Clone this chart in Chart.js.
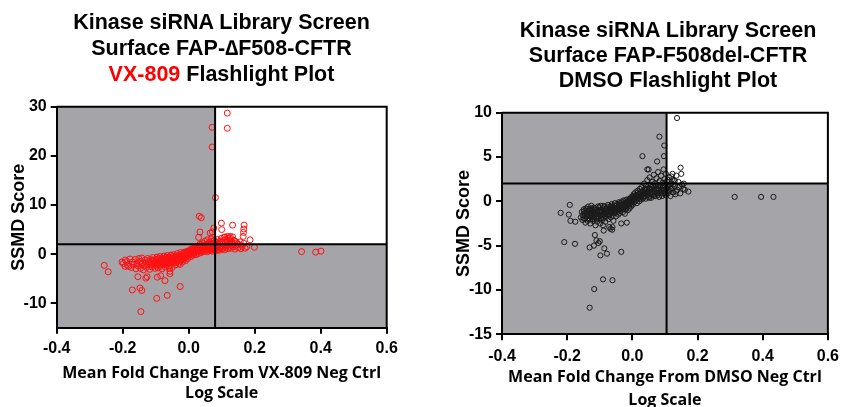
<!DOCTYPE html>
<html><head><meta charset="utf-8">
<script src="https://cdn.jsdelivr.net/npm/chart.js@4"></script>
<style>
html,body{margin:0;padding:0;background:#fff;width:846px;height:407px;overflow:hidden;position:relative;}
canvas{position:absolute;top:0;}
.title{position:absolute;text-align:center;font-family:'Liberation Sans',Arial,sans-serif;font-weight:bold;font-size:21.5px;color:#000;white-space:nowrap;}
</style></head><body>
<canvas id="c1" width="423" height="407" style="left:0px"></canvas>
<canvas id="c2" width="423" height="412" style="left:423px"></canvas>
<div class="title" style="left:31.5px;width:380px;top:10.4px;line-height:25.7px">Kinase siRNA Library Screen<br>Surface FAP-∆F508-CFTR<br><span style="color:#ff0000">VX-809</span> Flashlight Plot</div>
<div class="title" style="left:478px;width:380px;top:17.5px;line-height:25px">Kinase siRNA Library Screen<br>Surface FAP-F508del-CFTR<br>DMSO Flashlight Plot</div>
<script>
// ---------- data ----------
const xRange = [-0.4, 0.6];
const xTicks = [-0.4, -0.2, 0, 0.2, 0.4, 0.6];

const vx809YRange = [-15, 30];
const vx809YTicks = [-10, 0, 10, 20, 30];
const vx809Cut = [0.08, 2];          // [fold-change threshold, SSMD threshold]
const vx809XTitle = ['Mean Fold Change From VX-809 Neg Ctrl', 'Log Scale'];

const dmsoYRange = [-15, 10];
const dmsoYTicks = [-15, -10, -5, 0, 5, 10];
const dmsoCut = [0.105, 2];
const dmsoXTitle = ['Mean Fold Change From DMSO Neg Ctrl', 'Log Scale'];

const yTitle = 'SSMD Score';

const vx809Outliers = [
[0.117,28.7],[0.071,25.8],[0.117,25.6],[0.071,21.8],[0.081,11.5],[0.032,7.7],[0.038,7.4],[0.099,6.3],
[0.133,5.9],[0.168,5.9],[0.167,5.1],[0.166,4.4],[0.165,3.6],[0.186,2.9],[0.199,1.4],[0.342,0.5],
[0.385,0.4],[0.401,0.6],[0.034,4.5],[0.030,3.4],[0.065,4.3],[0.072,4.5],[0.076,5.3],[0.100,5.0],
[0.110,3.5],[0.118,3.6],[0.124,3.3],[0.133,3.5],[-0.256,-2.3],[-0.244,-3.6],[-0.202,-1.6],[-0.193,-2.5],
[-0.187,-1.5],[-0.181,-2.5],[-0.171,-7.3],[-0.154,-4.6],[-0.148,-6.9],[-0.142,-7.4],[-0.145,-11.7],
[-0.130,-4.9],[-0.126,-4.6],[-0.097,-9.0],[-0.095,-4.7],[-0.085,-4.4],[-0.072,-5.4],[-0.065,-8.4],
[-0.057,-3.5],[-0.057,-4.0],[-0.058,-2.9],[-0.026,-6.6],[-0.026,-2.1]
];
const vx809Cluster = [
[-0.198,-1.9],[-0.192,-1.2],[-0.185,-2.3],[-0.178,-1.0],[-0.174,-2.7],[-0.170,-1.6],[-0.166,-2.1],[-0.162,-1.1],
[-0.160,-3.0],[-0.157,-1.8],[-0.154,-2.4],[-0.151,-0.9],[-0.148,-1.5],[-0.146,-2.9],[-0.144,-2.1],[-0.142,-0.8],
[-0.139,-1.7],[-0.137,-3.2],[-0.135,-2.4],[-0.132,-1.2],[-0.130,-1.9],[-0.128,-2.7],[-0.125,-0.9],[-0.123,-1.5],
[-0.121,-2.2],[-0.118,-3.1],[-0.116,-1.1],[-0.114,-1.8],[-0.112,-2.6],[-0.109,-0.7],[-0.107,-1.4],[-0.104,-2.0],
[-0.102,-2.9],[-0.099,-1.2],[-0.098,-2.4],[-0.096,-0.6],[-0.095,-1.7],[-0.093,-2.8],[-0.092,-1.0],[-0.090,-2.0],
[-0.089,-1.4],[-0.087,-0.5],[-0.086,-2.5],[-0.084,-1.1],[-0.083,-1.8],[-0.081,-3.0],[-0.080,-0.8],[-0.078,-1.5],
[-0.077,-2.2],[-0.075,-0.4],[-0.074,-1.2],[-0.072,-1.9],[-0.071,-2.6],[-0.069,-0.7],[-0.068,-1.4],[-0.066,-2.1],
[-0.065,-0.3],[-0.063,-1.0],[-0.062,-1.7],[-0.060,-2.4],[-0.059,-0.6],[-0.057,-1.3],[-0.056,-2.0],[-0.054,-0.2],
[-0.053,-0.9],[-0.051,-1.5],[-0.050,-2.7],[-0.049,-0.5],[-0.048,-1.2],[-0.046,-1.8],[-0.045,-0.1],[-0.043,-0.8],
[-0.042,-1.4],[-0.040,-2.2],[-0.039,-0.4],[-0.037,-1.0],[-0.036,-1.6],[-0.034,0.1],[-0.033,-0.6],[-0.031,-1.2],
[-0.030,-1.9],[-0.028,-0.2],[-0.027,-0.8],[-0.025,-1.4],[-0.024,0.3],[-0.022,-0.4],[-0.021,-1.0],[-0.019,-1.6],
[-0.018,0.1],[-0.016,-0.6],[-0.015,-1.1],[-0.013,0.4],[-0.012,-0.2],[-0.010,-0.8],[-0.009,-1.3],[-0.007,0.2],
[-0.006,-0.4],[-0.004,0.6],[-0.003,-0.9],[-0.001,0.0],[0.001,0.5],[0.002,-0.3],[0.004,0.9],[0.005,0.2],
[0.007,-0.5],[0.008,0.7],[0.010,0.0],[0.011,1.1],[0.013,0.4],[0.014,-0.2],[0.016,0.9],[0.017,0.2],
[0.019,1.3],[0.020,0.6],[0.022,-0.1],[0.023,1.0],[0.025,0.4],[0.026,1.6],[0.028,0.8],[0.029,0.1],
[0.031,1.2],[0.032,0.6],[0.034,2.0],[0.035,0.9],[0.037,0.3],[0.038,1.5],[0.040,0.7],[0.041,2.3],
[0.043,1.1],[0.044,0.5],[0.046,1.8],[0.047,0.9],[0.049,2.6],[0.050,1.3],[0.051,0.6],[0.053,2.0],
[0.054,1.0],[0.056,2.9],[0.057,0.5],[0.059,1.6],[0.060,0.9],[0.062,2.4],[0.063,1.2],[0.065,0.7],
[0.066,1.9],[0.068,3.1],[0.069,1.0],[0.071,1.5],[0.072,0.6],[0.074,2.2],[0.075,1.2],[0.077,2.8],
[0.078,0.8],[0.080,1.7],[0.081,1.1],[0.083,2.4],[0.084,0.7],[0.086,1.4],[0.087,3.0],[0.089,1.0],
[0.091,1.9],[0.093,0.8],[0.095,2.6],[0.097,1.3],[0.099,3.2],[0.101,1.0],[0.103,2.1],[0.105,1.5],
[0.107,3.4],[0.109,0.9],[0.111,2.3],[0.113,1.4],[0.115,3.0],[0.117,1.8],[0.119,1.1],[0.121,2.5],
[0.124,1.6],[0.126,3.6],[0.128,1.2],[0.131,2.0],[0.134,1.5],[0.137,2.8],[0.140,1.0],[0.143,1.7],
[0.146,2.3],[0.150,1.3],[0.154,1.9],[0.158,1.1],[0.162,1.6],[0.167,2.2],[0.171,1.2],[0.176,1.5]
];
const vx809Core = [
[-0.118,-1.6],[-0.113,-2.3],[-0.108,-1.2],[-0.103,-1.7],[-0.097,-1.4],[-0.094,-2.2],[-0.091,-1.5],[-0.088,-0.9],
[-0.085,-1.9],[-0.082,-1.3],[-0.079,-2.0],[-0.076,-1.0],[-0.073,-1.6],[-0.070,-1.2],[-0.067,-1.8],[-0.064,-0.8],
[-0.061,-1.4],[-0.058,-0.9],[-0.055,-1.6],[-0.052,-1.1],[-0.049,-1.7],[-0.047,-0.8],[-0.044,-1.2],[-0.041,-0.6],
[-0.038,-1.1],[-0.035,-0.5],[-0.032,-0.9],[-0.029,-0.4],[-0.026,-1.0],[-0.023,-0.5],[-0.020,-0.2],[-0.017,-0.7],
[-0.014,-0.1],[-0.011,-0.5],[-0.008,0.3],[-0.005,-0.2],[-0.002,0.4],[0.001,0.1],[0.004,0.6],[0.006,0.3],
[0.009,0.8],[0.012,0.5],[0.015,1.0],[0.018,0.6],[0.021,1.1],[0.024,0.8],[0.027,1.3],[0.030,0.9],
[0.033,1.4],[0.036,1.1],[0.039,1.9],[0.042,1.5],[0.045,1.0],[0.048,1.6],[0.052,1.2],[0.055,1.7],
[0.058,1.1],[0.061,1.4],[0.064,2.0],[0.067,1.3],[0.070,2.6],[0.073,1.7],[0.076,1.0],[0.079,2.1],
[0.082,1.4],[0.085,2.0],[0.088,1.6],[0.092,2.3],[0.096,1.6],[0.100,2.4],[0.104,1.2],[0.108,2.8],
[0.112,1.8],[0.116,2.6],[0.120,3.2],[0.123,2.0],[0.127,2.9],[0.132,2.4],[0.136,1.9],[0.141,2.6],
[0.148,2.0],[0.156,2.5]
];

const dmsoOutliers = [
[0.137,9.4],[0.083,7.3],[0.098,6.3],[0.097,5.1],[0.031,5.1],[0.076,4.5],[0.046,3.6],[0.050,3.6],
[0.148,3.8],[0.150,3.1],[0.120,2.8],[0.172,1.1],[0.161,1.3],[0.158,2.0],[0.314,0.5],[0.395,0.5],
[0.433,0.5],[-0.220,-1.3],[-0.192,-0.4],[-0.195,-1.5],[-0.190,-2.2],[-0.175,-2.3],[-0.209,-4.6],[-0.176,-4.8],
[-0.131,-5.2],[-0.115,-3.8],[-0.110,-4.4],[-0.118,-5.0],[-0.104,-4.7],[-0.100,-4.5],[-0.098,-6.1],[-0.086,-5.3],
[-0.078,-5.9],[-0.117,-9.9],[-0.131,-12.0],[-0.090,-8.8],[-0.061,-8.9],[-0.034,-5.7],[-0.071,-2.9],[-0.067,-3.1],
[-0.061,-2.9],[-0.062,-3.2],[-0.034,-2.5],[-0.017,-2.4],[-0.090,-2.7],[-0.088,-3.3]
];
const dmsoCluster = [
[-0.158,-1.8],[-0.155,-1.2],[-0.153,-2.1],[-0.151,-1.5],[-0.149,-0.9],[-0.147,-2.0],[-0.146,-1.4],[-0.144,-2.4],
[-0.142,-0.8],[-0.141,-1.7],[-0.139,-1.1],[-0.137,-2.2],[-0.136,-0.6],[-0.134,-1.5],[-0.132,-1.9],[-0.131,-0.9],
[-0.129,-2.5],[-0.127,-1.3],[-0.126,-0.5],[-0.124,-1.8],[-0.122,-1.0],[-0.121,-2.2],[-0.119,-1.5],[-0.118,-0.7],
[-0.116,-2.0],[-0.114,-1.2],[-0.113,-2.7],[-0.111,-0.9],[-0.109,-1.7],[-0.108,-2.3],[-0.106,-0.6],[-0.104,-1.4],
[-0.103,-1.9],[-0.101,-1.0],[-0.099,-2.5],[-0.098,-0.5],[-0.096,-1.6],[-0.094,-1.2],[-0.093,-2.1],[-0.091,-0.8],
[-0.089,-1.5],[-0.088,-1.9],[-0.086,-0.6],[-0.084,-1.1],[-0.083,-2.3],[-0.081,-1.4],[-0.079,-0.8],[-0.078,-1.7],
[-0.076,-1.2],[-0.075,-0.4],[-0.073,-2.0],[-0.071,-1.0],[-0.070,-1.5],[-0.068,-0.6],[-0.066,-1.8],[-0.065,-1.2],
[-0.063,-0.3],[-0.061,-0.9],[-0.060,-1.6],[-0.058,-2.2],[-0.056,-0.7],[-0.055,-1.3],[-0.053,-0.2],[-0.051,-1.0],
[-0.050,-1.7],[-0.048,-0.5],[-0.046,-1.2],[-0.045,-0.8],[-0.043,-1.5],[-0.041,-0.1],[-0.039,-0.7],[-0.038,-1.3],
[-0.036,-0.4],[-0.034,-1.0],[-0.033,-0.1],[-0.031,-0.6],[-0.029,-1.2],[-0.028,0.1],[-0.026,-0.4],[-0.024,-0.9],
[-0.023,-1.4],[-0.021,-0.2],[-0.019,-0.7],[-0.018,0.2],[-0.016,-0.5],[-0.014,-1.0],[-0.013,0.0],[-0.011,-0.3],
[-0.009,-0.8],[-0.008,0.3],[-0.006,-0.2],[-0.004,-0.6],[-0.003,0.5],[-0.001,0.0],[0.001,-0.4],[0.003,0.3],
[0.004,0.8],[0.006,-0.1],[0.008,0.5],[0.009,1.0],[0.011,0.1],[0.013,0.6],[0.014,-0.2],[0.016,1.2],
[0.018,0.3],[0.019,0.8],[0.021,0.0],[0.023,1.4],[0.024,0.5],[0.026,1.0],[0.028,0.2],[0.029,1.6],
[0.031,0.7],[0.033,1.2],[0.034,0.4],[0.036,2.0],[0.038,0.9],[0.039,1.4],[0.041,0.3],[0.043,1.8],
[0.044,0.8],[0.046,2.4],[0.048,1.1],[0.049,0.5],[0.051,1.5],[0.053,2.7],[0.054,0.9],[0.056,1.9],
[0.058,0.4],[0.059,1.3],[0.061,2.2],[0.063,0.7],[0.064,1.7],[0.066,3.0],[0.068,1.0],[0.069,2.0],
[0.071,0.6],[0.073,1.4],[0.074,2.6],[0.076,0.9],[0.078,1.8],[0.079,3.3],[0.081,1.2],[0.082,0.5],
[0.084,2.3],[0.085,1.6],[0.087,0.9],[0.088,2.9],[0.090,1.3],[0.091,0.6],[0.093,2.1],[0.094,1.5],
[0.096,3.6],[0.097,1.0],[0.099,2.5],[0.100,1.8],[0.102,0.7],[0.103,3.1],[0.104,1.4],[0.107,2.2],
[0.109,0.9],[0.111,1.7],[0.113,2.7],[0.115,1.2],[0.117,0.6],[0.119,2.0],[0.121,1.5],[0.123,3.1],
[0.125,1.0],[0.127,2.4],[0.130,1.7],[0.132,0.8],[0.135,2.9],[0.138,1.3],[0.141,2.2],[0.144,1.6],
[0.147,0.9],[0.152,1.9],[0.156,1.4]
];
const dmsoCore = [
[-0.152,-1.6],[-0.148,-1.1],[-0.145,-1.9],[-0.143,-1.3],[-0.140,-0.9],[-0.138,-1.6],[-0.135,-2.0],[-0.133,-1.2],
[-0.130,-1.6],[-0.128,-0.8],[-0.125,-1.4],[-0.123,-2.0],[-0.120,-1.1],[-0.117,-1.7],[-0.115,-0.8],[-0.112,-1.4],
[-0.110,-2.0],[-0.107,-1.1],[-0.105,-1.7],[-0.102,-0.7],[-0.100,-1.3],[-0.097,-1.9],[-0.095,-1.0],[-0.092,-1.5],
[-0.090,-0.5],[-0.087,-1.2],[-0.085,-1.7],[-0.082,-0.9],[-0.080,-1.3],[-0.077,-0.6],[-0.074,-1.1],[-0.072,-1.6],
[-0.069,-0.8],[-0.067,-1.3],[-0.064,-0.5],[-0.062,-1.1],[-0.059,-0.7],[-0.057,-1.0],[-0.054,-0.5],[-0.052,-1.3],
[-0.049,-0.8],[-0.047,-0.3],[-0.044,-1.0],[-0.042,-0.5],[-0.040,-0.9],[-0.037,-0.2],[-0.035,-0.6],[-0.032,-0.9],
[-0.030,-0.3],[-0.027,-0.7],[-0.025,0.0],[-0.022,-0.5],[-0.020,-0.9],[-0.017,-0.1],[-0.015,-0.4],[-0.012,0.2],
[-0.010,-0.5],[-0.007,0.0],[-0.005,0.3],[-0.002,-0.3],[0.000,0.2],[0.002,0.6],[0.005,0.1],[0.007,0.4],
[0.010,0.7],[0.012,0.3],[0.015,0.6],[0.017,1.0],[0.020,0.5],[0.022,0.8],[0.025,0.3],[0.027,0.7],
[0.030,1.1],[0.032,0.5],[0.035,0.9],[0.037,1.3],[0.040,0.6],[0.042,1.0],[0.045,1.4],[0.047,0.7],
[0.050,1.1],[0.052,0.4],[0.055,1.3],[0.057,0.8],[0.060,1.6],[0.062,1.0],[0.065,1.3],[0.067,0.6],
[0.070,1.1],[0.072,1.7],[0.075,1.3],[0.077,0.7],[0.080,1.5],[0.083,1.0],[0.086,1.8],[0.089,1.2],
[0.092,0.9],[0.095,1.7],[0.098,1.2],[0.101,2.0],[0.103,0.9],[0.106,1.5],[0.108,2.4],[0.110,1.2],
[0.114,1.9],[0.118,1.4],[0.122,2.5],[0.126,1.9],[0.130,2.3],[0.134,1.1]
];

// ---------- drawing ----------
const GRAY = '#a5a4a9';
const TICK_FONT = {family: "'Liberation Sans', Arial, sans-serif", size: 16, weight: 'bold'};

const quadrantPlugin = {
  id: 'quadrant',
  beforeDraw(chart, args, opts) {
    const {ctx, chartArea: a, scales: {x, y}} = chart;
    const cx = x.getPixelForValue(opts.cut[0]);
    const cy = y.getPixelForValue(opts.cut[1]);
    ctx.save();
    ctx.fillStyle = GRAY;
    ctx.fillRect(a.left, a.top, a.right - a.left, a.bottom - a.top);
    ctx.fillStyle = '#ffffff';
    ctx.fillRect(cx, a.top, a.right - cx, cy - a.top);
    ctx.restore();
  },
  afterDatasetsDraw(chart, args, opts) {
    const {ctx, chartArea: a, scales: {x, y}} = chart;
    const cx = x.getPixelForValue(opts.cut[0]);
    const cy = y.getPixelForValue(opts.cut[1]);
    ctx.save();
    ctx.strokeStyle = '#000';
    ctx.lineWidth = 2;
    ctx.beginPath();
    ctx.moveTo(cx, a.top); ctx.lineTo(cx, a.bottom);
    ctx.moveTo(a.left, cy); ctx.lineTo(a.right, cy);
    ctx.moveTo(a.left, a.top); ctx.lineTo(a.right, a.top); ctx.lineTo(a.right, a.bottom);
    ctx.stroke();
    ctx.restore();
  }
};

function makeChart(id, o) {
  const pts = o.points.map(([x, y]) => ({x, y}));
  return new Chart(document.getElementById(id), {
    type: 'scatter',
    data: {datasets: [{
      data: pts,
      pointStyle: 'circle',
      pointRadius: o.radius,
      pointHoverRadius: o.radius,
      borderWidth: 1,
      borderColor: o.color,
      backgroundColor: 'rgba(0,0,0,0)'
    }]},
    options: {
      responsive: false,
      animation: false,
      events: [],
      layout: {padding: {left: 0, right: o.padRight, top: o.padTop, bottom: 0}},
      plugins: {legend: {display: false}, tooltip: {enabled: false}, quadrant: {cut: o.cut}},
      scales: {
        x: {
          type: 'linear', min: xRange[0], max: xRange[1],
          afterBuildTicks: s => { s.ticks = xTicks.map(v => ({value: v})); },
          afterFit: s => { s.height = o.xAxisH; },
          ticks: {callback: v => Number(v).toFixed(1), color: '#000', font: TICK_FONT, padding: o.xTickPad, maxRotation: 0, autoSkip: false},
          grid: {display: true, drawOnChartArea: false, drawTicks: true, tickLength: 6, color: '#000', lineWidth: 2},
          border: {display: true, color: '#000', width: 2},
          title: {display: true, text: o.xTitle, color: '#000',
            font: {family: "'Open Sans', sans-serif", size: 16, weight: 'bold', lineHeight: o.xTitleLH},
            padding: {top: 0, bottom: o.xTitlePadB}}
        },
        y: {
          type: 'linear', min: o.yRange[0], max: o.yRange[1],
          afterBuildTicks: s => { s.ticks = o.yTicks.map(v => ({value: v})); },
          afterFit: s => { s.width = o.yAxisW; },
          ticks: {color: '#000', font: TICK_FONT, padding: 4, autoSkip: false},
          grid: {display: true, drawOnChartArea: false, drawTicks: true, tickLength: 6, color: '#000', lineWidth: 2},
          border: {display: true, color: '#000', width: 2},
          title: {display: true, text: yTitle, color: '#000',
            font: {family: "'Liberation Sans', Arial, sans-serif", size: 18, weight: 'bold', lineHeight: 1.2},
            padding: {top: o.yTitlePadT, bottom: 0}}
        }
      }
    },
    plugins: [quadrantPlugin]
  });
}

makeChart('c1', {
  points: vx809Outliers.concat(vx809Cluster, vx809Core),
  radius: 3, color: '#ff1010',
  cut: vx809Cut, yRange: vx809YRange, yTicks: vx809YTicks, xTitle: vx809XTitle,
  padRight: 36.3, padTop: 106.7, xAxisH: 79.2, yAxisW: 56.7,
  xTickPad: 5, xTitleLH: 1.25, xTitlePadB: 3.7, yTitlePadT: 8.2
});
makeChart('c2', {
  points: dmsoOutliers.concat(dmsoCluster, dmsoCore),
  radius: 2.6, color: '#1a1a1a',
  cut: dmsoCut, yRange: dmsoYRange, yTicks: dmsoYTicks, xTitle: dmsoXTitle,
  padRight: 12.3, padTop: 112.7, xAxisH: 77.7, yAxisW: 79,
  xTickPad: 7, xTitleLH: 1.4, xTitlePadB: 0.8, yTitlePadT: 30.7
});
</script>
</body></html>
